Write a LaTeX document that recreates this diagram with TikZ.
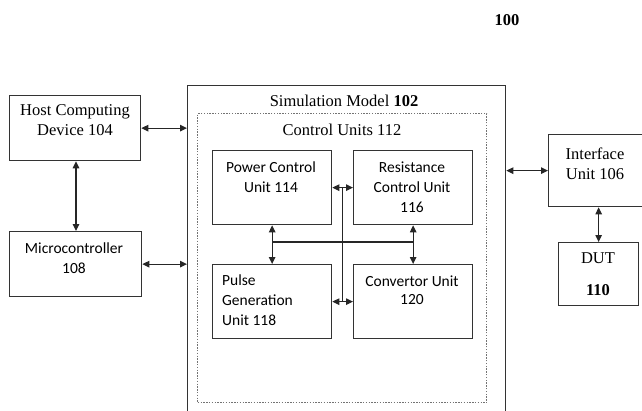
\documentclass[tikz,border=0pt]{standalone}
\usepackage{fontspec}
\setmainfont{Liberation Serif}
\setsansfont{Carlito}
\usetikzlibrary{arrows.meta,calc}
\begin{document}
\begin{tikzpicture}[x=1pt,y=-1pt,
  box/.style={draw=black!80, line width=1.3pt, rectangle, inner sep=0pt, anchor=north west},
  lbl/.style={inner sep=0pt, align=center, font=\fontsize{16.5}{20}\selectfont},
  slbl/.style={inner sep=0pt, align=center, font=\sffamily\fontsize{15.5}{20}\selectfont},
  conn/.style={draw=black!85, line width=1.1pt, {Triangle[length=7pt,width=6.5pt]}-{Triangle[length=7pt,width=6.5pt]}},
  plain/.style={draw=black!85, line width=1.1pt}]
\useasboundingbox (0,0) rectangle (642,410);
\clip (0,0) rectangle (642,410);
% outer boxes
\node[box, minimum width=131pt, minimum height=65pt] (host) at (9,95) {};
\node[box, minimum width=132pt, minimum height=65pt] (micro) at (9,231) {};
\node[box, minimum width=318pt, minimum height=340pt] (sim) at (187,85) {};
\node[box, minimum width=95pt, minimum height=72pt] (iface) at (548,134) {};
\node[box, minimum width=80pt, minimum height=63pt] (dut) at (558,242) {};
% dotted control units box
\node[draw=black!55, line width=1.4pt, dash pattern=on 1.4pt off 1.4pt, rectangle, inner sep=0pt, anchor=north west, minimum width=289pt, minimum height=289pt] (cunits) at (197,113) {};
% inner boxes
\node[box, minimum width=119pt, minimum height=74pt] (pc) at (212,150) {};
\node[box, minimum width=119pt, minimum height=74pt] (rc) at (353,150) {};
\node[box, minimum width=119pt, minimum height=74pt] (pg) at (212,264) {};
\node[box, minimum width=119pt, minimum height=74pt] (cu) at (353,264) {};
% texts
\node[lbl, font=\bfseries\fontsize{16.5}{20}\selectfont] (t100) at (507,20.5) {100};
\node[lbl] (thost) at (75,120) {Host Computing\\Device 104};
\node[slbl] (tmicro) at (74,258.5) {Microcontroller\\108};
\node[lbl] (tsim) at (344,101) {Simulation Model \textbf{102}};
\node[lbl] (tcu) at (342,130) {Control Units 112};
\node[slbl] (tpc) at (271,177.5) {Power Control\\Unit 114};
\node[slbl] (trc) at (412,187.5) {Resistance\\Control Unit\\116};
\node[slbl, align=left, anchor=west] (tpg) at (222,300) {Pulse\\Generation\\Unit 118};
\node[slbl, font=\sffamily\fontsize{15.5}{18.5}\selectfont] (tcv) at (412,290) {Convertor Unit\\120};
\node[lbl] (tif) at (595,164) {Interface\\Unit 106};
\node[lbl] (tdut) at (598,274.5) {DUT\\[12pt]\textbf{110}};
% connectors
\draw[conn] (host.east) -- (host.east -| sim.west);
\draw[conn] (micro.east) -- (micro.east -| sim.west);
\draw[conn] (host.south -| 76,0) -- (micro.north -| 76,0);
\draw[conn] (iface.west) -- (iface.west -| sim.east);
\draw[conn] (dut.north) -- (dut.north |- iface.south);
\draw[conn] (pc.east) -- (rc.west);
\draw[conn] (pg.east) -- (cu.west);
\coordinate (vtop) at ($(pc.east)!.5!(rc.west)$);
\coordinate (vbot) at ($(pg.east)!.5!(cu.west)$);
\draw[plain] (vtop) -- (vbot);
\draw[conn] (pc.south) -- (pg.north);
\draw[conn] (rc.south) -- (cu.north);
\coordinate (hl) at (pc.south |- 0,242);
\coordinate (hr) at (rc.south |- 0,242);
\draw[plain] (hl) -- (hr);
\end{tikzpicture}
\end{document}
